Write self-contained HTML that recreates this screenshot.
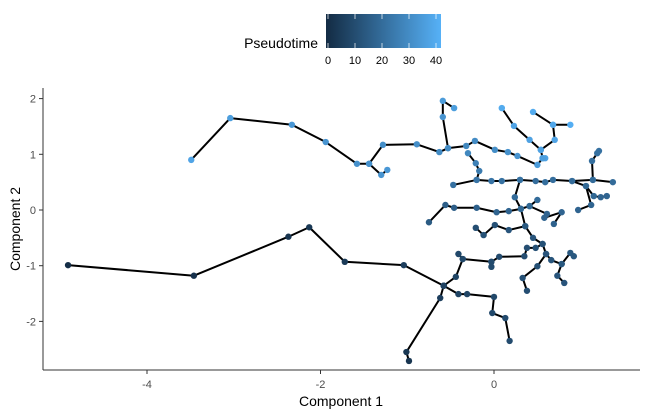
<!DOCTYPE html>
<html><head><meta charset="utf-8">
<style>
html,body{margin:0;padding:0;background:#fff;}
svg{display:block;font-family:"Liberation Sans",Arial,sans-serif;}
</style></head>
<body>
<svg id="chart" width="648" height="417" viewBox="0 0 648 417">
  <defs>
    <linearGradient id="pt-grad" x1="0" x2="1" y1="0" y2="0">
      <stop offset="0" stop-color="#132B43"/>
      <stop offset="1" stop-color="#56B1F7"/>
    </linearGradient>
  </defs>
  <g>
    <text x="318" y="48" font-size="14" text-anchor="end" fill="#000">Pseudotime</text>
    <rect x="326" y="14" width="115" height="34" fill="url(#pt-grad)"/>
    <g id="legend-ticks"></g>
  </g>
  <g id="plot">
    <line x1="43" y1="88" x2="43" y2="370" stroke="#333" stroke-width="1"/>
    <line x1="43" y1="370" x2="640" y2="370" stroke="#333" stroke-width="1"/>
    <g id="xticks"></g>
    <g id="yticks"></g>
    <g id="edges"></g>
    <g id="cells"></g>
    <text x="341" y="406" font-size="14" text-anchor="middle">Component 1</text>
    <text x="20" y="229" font-size="14" text-anchor="middle" transform="rotate(-90 20 229)">Component 2</text>
  </g>
</svg>
<script>
const xTicks = [-4, -2, 0];
const yTicks = [2, 1, 0, -1, -2];
const legendTicks = [0, 10, 20, 30, 40];
const tMax = 42;

// branches: arrays of [component1, component2, pseudotime]
const branchBottomMain = [[-4.91,-0.99,1],[-3.46,-1.18,2],[-2.37,-0.48,3],[-2.13,-0.31,4],[-1.72,-0.93,5],[-1.04,-0.99,6],[-0.58,-1.36,7],[-0.62,-1.58,6],[-1.01,-2.55,4],[-0.98,-2.71,3]];
const branchBottomUp = [[-0.58,-1.36,7],[-0.44,-1.20,8],[-0.36,-0.88,9],[-0.41,-0.79,9]];
const branchBottomMid = [[-0.36,-0.88,9],[-0.03,-0.93,10],[0.06,-0.84,10],[0.35,-0.83,11],[0.38,-0.68,11],[0.48,-0.68,12],[0.56,-0.61,12],[0.45,-0.50,13],[0.36,-0.29,14],[0.17,-0.36,13],[0.01,-0.27,12],[-0.12,-0.45,12],[-0.21,-0.32,11]];
const branchBottomSide = [[-0.03,-0.93,10],[-0.03,-1.02,10]];
const branchBottomLow = [[-0.58,-1.36,7],[-0.41,-1.51,8],[-0.31,-1.51,8],[0.00,-1.56,9],[-0.02,-1.85,9],[0.13,-1.94,10],[0.18,-2.35,10]];
const branchRightLow = [[0.56,-0.61,12],[0.60,-0.79,13],[0.66,-0.90,13],[0.78,-0.97,14],[0.88,-0.77,14],[0.92,-0.83,14]];
const branchRightLow2 = [[0.78,-0.97,14],[0.73,-1.18,13],[0.81,-1.31,13]];
const branchRightLow3 = [[0.60,-0.79,13],[0.50,-1.01,12],[0.33,-1.22,12],[0.38,-1.45,11]];
const branchMiddle = [[-0.75,-0.22,15],[-0.56,0.09,16],[-0.46,0.04,16],[-0.20,0.04,17],[0.03,-0.04,18],[0.17,-0.02,18],[0.31,0.02,19],[0.41,0.07,19],[0.50,0.18,20]];
const branchMiddleR = [[0.41,0.07,19],[0.61,-0.07,18],[0.58,-0.14,18],[0.78,-0.04,18],[0.69,-0.25,17]];
const branchTrunk = [[0.36,-0.29,14],[0.31,0.02,19],[0.24,0.23,20],[0.30,0.54,22]];
const branchUpperMid = [[-0.47,0.45,22],[-0.20,0.54,23],[-0.03,0.52,23],[0.09,0.52,22],[0.30,0.54,22],[0.48,0.52,21],[0.59,0.50,21],[0.68,0.54,21],[0.90,0.52,20],[1.14,0.54,20],[1.37,0.50,20]];
const branchUpperUp = [[-0.20,0.54,23],[-0.17,0.70,25],[-0.21,0.84,27],[-0.30,1.02,29]];
const branchRightMid = [[0.90,0.52,20],[1.06,0.43,19],[1.15,0.25,19],[1.23,0.23,18],[1.30,0.25,18]];
const branchRightMid2 = [[1.06,0.43,19],[1.12,0.09,18],[0.97,0.00,18]];
const branchRightUp = [[1.14,0.54,20],[1.13,0.88,21],[1.19,1.02,22],[1.21,1.06,22]];
const branchTop = [[-3.49,0.90,38],[-3.04,1.65,36],[-2.33,1.53,34],[-1.94,1.22,33],[-1.58,0.83,32],[-1.44,0.83,32],[-1.28,1.17,31],[-0.89,1.18,31],[-0.63,1.04,30],[-0.53,1.11,30],[-0.32,1.15,29],[-0.22,1.24,30],[0.01,1.08,31],[0.16,1.04,32],[0.27,0.97,33],[0.50,0.81,35],[0.56,0.93,36],[0.59,0.93,37]];
const branchTopTip = [[-1.44,0.83,32],[-1.30,0.63,33],[-1.23,0.72,34]];
const branchTopUp = [[-0.53,1.11,30],[-0.59,1.67,33],[-0.59,1.96,35],[-0.46,1.83,36]];
const branchTopRight1 = [[0.09,1.83,40],[0.23,1.51,38],[0.41,1.26,37],[0.54,1.08,37],[0.56,0.93,36]];
const branchTopRight2 = [[0.45,1.76,40],[0.68,1.53,39],[0.70,1.26,38],[0.54,1.08,37]];
const branchTopRight3 = [[0.68,1.53,39],[0.88,1.53,41]];

const branches = [branchBottomMain, branchBottomUp, branchBottomMid, branchBottomSide, branchBottomLow, branchRightLow, branchRightLow2, branchRightLow3, branchMiddle, branchMiddleR, branchTrunk, branchUpperMid, branchUpperUp, branchRightMid, branchRightMid2, branchRightUp, branchTop, branchTopTip, branchTopUp, branchTopRight1, branchTopRight2, branchTopRight3];

const NS = 'http://www.w3.org/2000/svg';
const xScale = v => 494 + v * 86.75;
const yScale = v => 210 - v * 55.7;
const legendScale = v => 328 + v * (108 / 40);

function color(t) {
  const f = Math.max(0, Math.min(1, t / tMax));
  const a = [0x13, 0x2B, 0x43], b = [0x56, 0xB1, 0xF7];
  const c = a.map((v, i) => Math.round(v + (b[i] - v) * f));
  return 'rgb(' + c.join(',') + ')';
}
function mk(tag, attrs, parent) {
  const el = document.createElementNS(NS, tag);
  for (const k in attrs) el.setAttribute(k, attrs[k]);
  parent.appendChild(el);
  return el;
}

const xg = document.getElementById('xticks');
xTicks.forEach(v => {
  const tk = mk('line', {x1: xScale(v), x2: xScale(v), y1: 370, y2: 374, stroke: '#333'}, xg);
  
  
  const lb = mk('text', {x: xScale(v), y: 388, 'font-size': 11, 'text-anchor': 'middle', fill: '#4d4d4d'}, xg);
  lb.textContent = v;
  
  
});
const yg = document.getElementById('yticks');
yTicks.forEach(v => {
  const tk = mk('line', {x1: 39, x2: 43, y1: yScale(v), y2: yScale(v), stroke: '#333'}, yg);
  
  
  const lb = mk('text', {x: 36, y: yScale(v) + 4, 'font-size': 11, 'text-anchor': 'end', fill: '#4d4d4d'}, yg);
  lb.textContent = v;
  
  
});
const lg = document.getElementById('legend-ticks');
legendTicks.forEach(v => {
  const a = mk('line', {x1: legendScale(v), x2: legendScale(v), y1: 14, y2: 19, stroke: '#fff', 'stroke-opacity': 0.7}, lg);
  
  
  const b = mk('line', {x1: legendScale(v), x2: legendScale(v), y1: 43, y2: 48, stroke: '#fff', 'stroke-opacity': 0.7}, lg);
  
  
  const t = mk('text', {x: legendScale(v), y: 64, 'font-size': 11, 'text-anchor': 'middle', fill: '#000'}, lg);
  t.textContent = v;
  
  
});

const eg = document.getElementById('edges');
const cg = document.getElementById('cells');
branches.forEach(br => {
  const p = mk('polyline', {points: br.map(d => xScale(d[0]) + ',' + yScale(d[1])).join(' '), fill: 'none', stroke: '#000', 'stroke-width': 2, 'stroke-linejoin': 'round'}, eg);
  
  
});
branches.forEach(br => {
  br.forEach(d => {
    const c = mk('circle', {cx: xScale(d[0]), cy: yScale(d[1]), r: 3.2, fill: color(d[2])}, cg);
    
    
  });
});
</script>
</body></html>
